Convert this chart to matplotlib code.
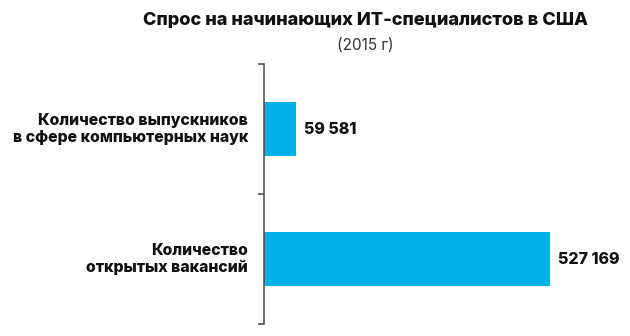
import matplotlib
matplotlib.use("Agg")
import matplotlib.pyplot as plt

categories = ["Количество выпускников\nв сфере компьютерных наук", "Количество\nоткрытых вакансий"]
values = [59581, 527169]
value_labels = ["59 581", "527 169"]
title = "Спрос на начинающих ИТ-специалистов в США"
subtitle = "(2015 г)"

plt.rcParams['font.family'] = ['Inter', 'DejaVu Sans']

W, H = 630, 336
fig = plt.figure(figsize=(W/100, H/100), dpi=100)
x0, y_top, y_bot = 264, 64, 324
xmax = 580000
px_per = 286 / 527169
right = x0 + xmax * px_per
ax = fig.add_axes([x0/W, 1 - y_bot/H, (right - x0)/W, (y_bot - y_top)/H])

pos = list(range(len(categories)))
ax.barh(pos, values, height=0.41, color="#00b0e6")
ax.set_ylim(1.5, -0.5)
ax.set_xlim(0, xmax)
for s in ["top", "right", "bottom"]:
    ax.spines[s].set_visible(False)
ax.spines["left"].set_color("#555555")
ax.spines["left"].set_linewidth(1.2)
ax.set_xticks([])
ax.set_yticks([-0.5, 0.5, 1.5])
ax.set_yticklabels([])
ax.tick_params(axis="y", length=4, width=1.2, color="#555555", direction="out")
for p, lab in zip(pos, categories):
    ax.text(-16 / px_per, p, lab, ha="right", va="center", fontsize=11.4,
            fontweight="heavy", linespacing=1.2, color="#111111")
for p, v, lab in zip(pos, values, value_labels):
    ax.text(v + 8 / px_per, p, lab, ha="left", va="center", fontsize=11.5,
            fontweight="heavy", color="#111111")

fig.text(365/W, 1 - 20/H, title, ha="center", va="center", fontsize=13.1, fontweight="heavy", color="#111111")
fig.text(365/W, 1 - 45/H, subtitle, ha="center", va="center", fontsize=11, color="#333333")

fig.savefig("out.png", dpi=100)
